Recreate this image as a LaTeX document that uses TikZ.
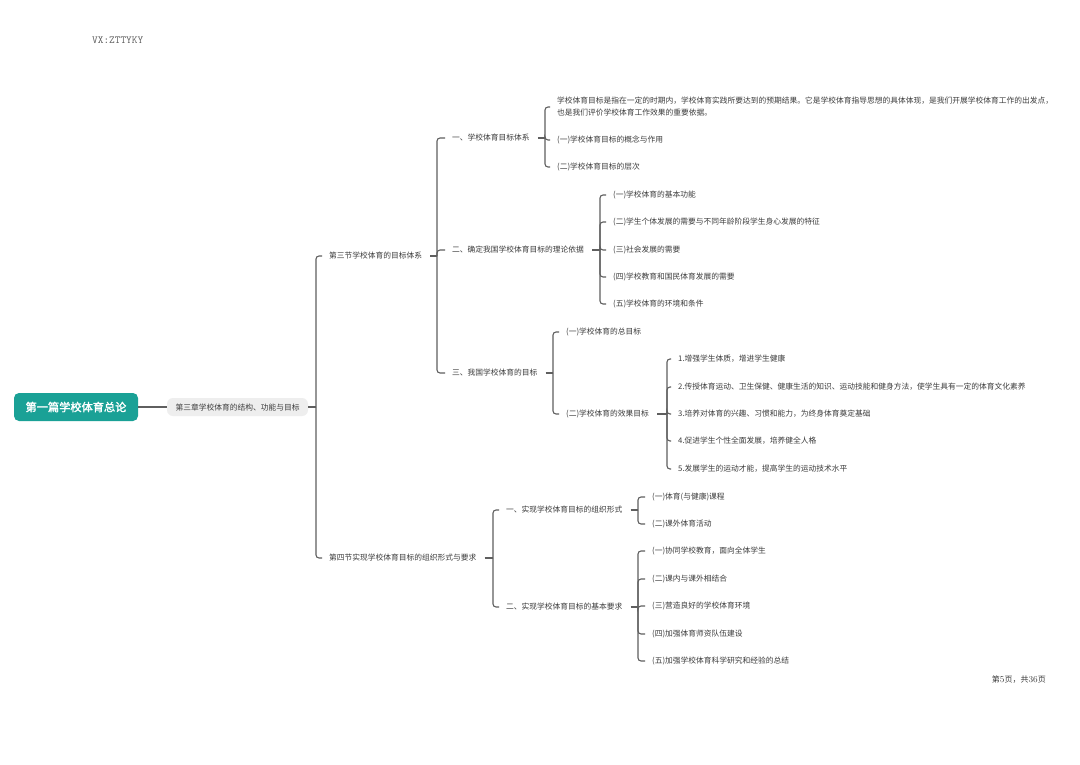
\documentclass[tikz,border=0pt]{standalone}
\usepackage{fontspec}
\setmainfont{Noto Sans CJK SC}
\newfontfamily\titlefont[FakeBold=2]{Noto Sans CJK SC}
\newfontfamily\lmrfont{Latin Modern Roman}
\definecolor{teal1}{RGB}{26,161,150}
\definecolor{txt}{RGB}{60,60,60}
\definecolor{ln}{RGB}{95,95,95}
\definecolor{chip}{RGB}{238,238,238}
\newcommand\stubline[2]{\draw[conn] ([xshift=8pt]#1.east) -- (#1.east -| #2);}
\newcommand\kidline[3]{\draw[conn] (#1.east -| #2) |- ([xshift=-7pt]#3.west);}
\tikzset{
  leaf/.style={anchor=west, inner sep=0pt, text=txt, font=\fontsize{7.75}{12}\selectfont, align=left},
  conn/.style={draw=ln, line width=1.1pt, rounded corners=3pt},
}
\begin{document}
\begin{tikzpicture}[x=1pt,y=-1pt]
\useasboundingbox (0,0) rectangle (1080,764);
\fill[white] (0,0) rectangle (1080,764);

\node[anchor=west, inner sep=0pt, text=ln, font=\ttfamily\fontsize{10.8}{12}\selectfont] (wm) at (92,40) {VX:ZTTYKY};
\node[anchor=east, inner sep=0pt, text=txt, font=\fontsize{8}{10}\selectfont] (pg) at (1046,680) {第{\lmrfont\fontsize{9}{10}\selectfont 5}页，共{\lmrfont\fontsize{9}{10}\selectfont 36}页};

% root and chapter
\node[fill=teal1, rounded corners=5pt, minimum width=124pt, minimum height=28pt, inner sep=0pt, text=white, font=\titlefont\fontsize{11.2}{13}\selectfont] (root) at (76,407) {第一篇学校体育总论};
\node[fill=chip, rounded corners=6pt, minimum width=141pt, minimum height=18pt, inner sep=0pt, text=txt, font=\fontsize{7.75}{10}\selectfont] (ch) at (237.5,407) {第三章学校体育的结构、功能与目标};

% bracket x positions
\coordinate (b0) at (316,0);
\coordinate (b1) at (437,0);
\coordinate (b11) at (545,0);
\coordinate (b12) at (600,0);
\coordinate (b13) at (553,0);
\coordinate (b131) at (667,0);
\coordinate (b2) at (493,0);
\coordinate (b21) at (638,0);
\coordinate (b22) at (638,0);

% sections
\node[leaf] (s3) at (329,256) {第三节学校体育的目标体系};
\node[leaf] (s4) at (329,558) {第四节实现学校体育目标的组织形式与要求};

\node[leaf] (a1) at (452,138) {一、学校体育目标体系};
\node[leaf] (a2) at (452,250) {二、确定我国学校体育目标的理论依据};
\node[leaf] (a3) at (452,373) {三、我国学校体育的目标};

\node[leaf] (a11) at (557,107) {学校体育目标是指在一定的时期内，学校体育实践所要达到的预期结果。它是学校体育指导思想的具体体现，是我们开展学校体育工作的出发点，\\也是我们评价学校体育工作效果的重要依据。};
\node[leaf] (a12) at (557,140) {(一)学校体育目标的概念与作用};
\node[leaf] (a13) at (557,167) {(二)学校体育目标的层次};

\node[leaf] (a21) at (613,195) {(一)学校体育的基本功能};
\node[leaf] (a22) at (613,222) {(二)学生个体发展的需要与不同年龄阶段学生身心发展的特征};
\node[leaf] (a23) at (613,250) {(三)社会发展的需要};
\node[leaf] (a24) at (613,277) {(四)学校教育和国民体育发展的需要};
\node[leaf] (a25) at (613,304) {(五)学校体育的环境和条件};

\node[leaf] (a31) at (566,332) {(一)学校体育的总目标};
\node[leaf] (a32) at (566,414) {(二)学校体育的效果目标};

\node[leaf] (e1) at (678,359) {1.增强学生体质，增进学生健康};
\node[leaf] (e2) at (678,387) {2.传授体育运动、卫生保健、健康生活的知识、运动技能和健身方法，使学生具有一定的体育文化素养};
\node[leaf] (e3) at (678,414) {3.培养对体育的兴趣、习惯和能力，为终身体育奠定基础};
\node[leaf] (e4) at (678,441) {4.促进学生个性全面发展，培养健全人格};
\node[leaf] (e5) at (678,469) {5.发展学生的运动才能，提高学生的运动技术水平};

\node[leaf] (c1) at (506,510) {一、实现学校体育目标的组织形式};
\node[leaf] (c2) at (506,607) {二、实现学校体育目标的基本要求};

\node[leaf] (c11) at (652,497) {(一)体育(与健康)课程};
\node[leaf] (c12) at (652,524) {(二)课外体育活动};

\node[leaf] (c21) at (652,551) {(一)协同学校教育，面向全体学生};
\node[leaf] (c22) at (652,579) {(二)课内与课外相结合};
\node[leaf] (c23) at (652,606) {(三)营造良好的学校体育环境};
\node[leaf] (c24) at (652,634) {(四)加强体育师资队伍建设};
\node[leaf] (c25) at (652,661) {(五)加强学校体育科学研究和经验的总结};

% connectors
\draw[conn] (root.east) -- (ch.west);
\draw[conn] (ch.east) -- (ch.east -| b0);
\kidline{ch}{b0}{s3}
\kidline{ch}{b0}{s4}

\stubline{s3}{b1}
\kidline{s3}{b1}{a1}
\kidline{s3}{b1}{a2}
\kidline{s3}{b1}{a3}

\stubline{a1}{b11}
\kidline{a1}{b11}{a11}
\kidline{a1}{b11}{a12}
\kidline{a1}{b11}{a13}

\stubline{a2}{b12}
\kidline{a2}{b12}{a21}
\kidline{a2}{b12}{a22}
\kidline{a2}{b12}{a23}
\kidline{a2}{b12}{a24}
\kidline{a2}{b12}{a25}

\stubline{a3}{b13}
\kidline{a3}{b13}{a31}
\kidline{a3}{b13}{a32}

\stubline{a32}{b131}
\kidline{a32}{b131}{e1}
\kidline{a32}{b131}{e2}
\kidline{a32}{b131}{e3}
\kidline{a32}{b131}{e4}
\kidline{a32}{b131}{e5}

\stubline{s4}{b2}
\kidline{s4}{b2}{c1}
\kidline{s4}{b2}{c2}

\stubline{c1}{b21}
\kidline{c1}{b21}{c11}
\kidline{c1}{b21}{c12}

\stubline{c2}{b22}
\kidline{c2}{b22}{c21}
\kidline{c2}{b22}{c22}
\kidline{c2}{b22}{c23}
\kidline{c2}{b22}{c24}
\kidline{c2}{b22}{c25}
\end{tikzpicture}
\end{document}
